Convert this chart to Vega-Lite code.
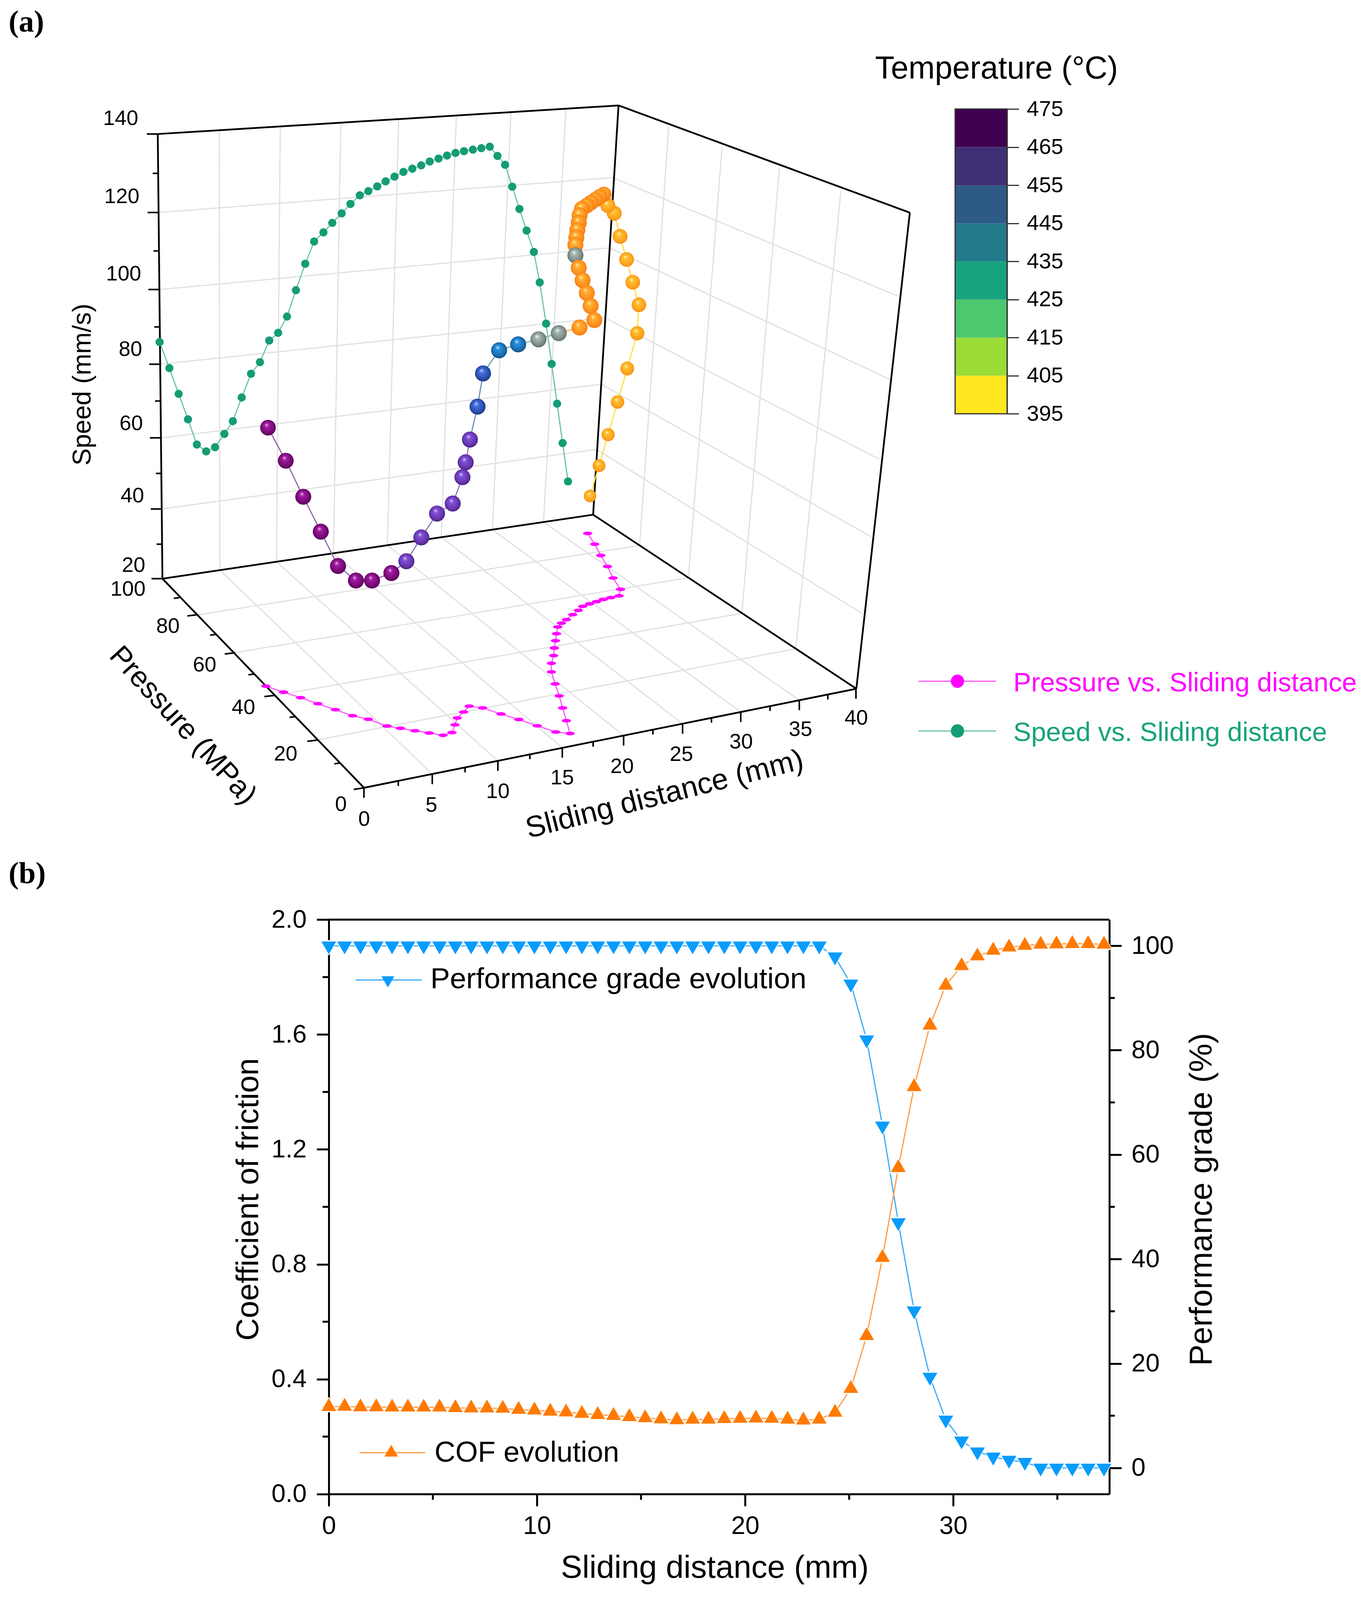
{
  "$schema": "https://vega.github.io/schema/vega-lite/v6.json",
  "width": 3511,
  "height": 4464,
  "autosize": {"type": "none"},
  "padding": 0,
  "background": "white",
  "config": {
    "font": "Liberation Sans",
    "view": {"stroke": null},
    "axis": {"grid": false, "domainColor": "black", "tickColor": "black", "labelColor": "black", "titleColor": "black", "titleFontWeight": "normal", "labelOverlap": false, "labelFlush": false, "zindex": 1}
  },
  "datasets": {
    "grid": [
      {"u":406.6,"v":594.5,"u2":1569,"v2":497},{"u":408,"v":810,"u2":1560.7,"v2":693.6},{"u":410,"v":1019,"u2":1548,"v2":888.5},{"u":412,"v":1225,"u2":1540,"v2":1075},{"u":414,"v":1424,"u2":1527.5,"v2":1257.5},
      {"u":561.6,"v":364,"u2":563,"v2":1595},{"u":717.7,"v":354,"u2":708,"v2":1572},{"u":872.7,"v":343,"u2":854,"v2":1548},{"u":1021,"v":333,"u2":992,"v2":1525.5},{"u":1168.7,"v":323,"u2":1130,"v2":1503},{"u":1308.5,"v":314,"u2":1261,"v2":1482},{"u":1449.5,"v":304,"u2":1392,"v2":1461},
      {"u":1569,"v":497,"u2":2301,"v2":829},{"u":1560.7,"v":693.6,"u2":2278,"v2":1061},{"u":1548,"v":888.5,"u2":2252,"v2":1285},{"u":1540,"v":1075,"u2":2231,"v2":1501.6},{"u":1527.5,"v":1257.5,"u2":2209,"v2":1717},
      {"u":1712.5,"v":353.6,"u2":1638,"v2":1526},{"u":1849,"v":411.7,"u2":1763,"v2":1616},{"u":1996,"v":469.7,"u2":1900,"v2":1716},{"u":2153.6,"v":532,"u2":2038,"v2":1815},
      {"u":563,"v":1595,"u2":1107,"v2":2166},{"u":708,"v":1572,"u2":1275,"v2":2129},{"u":854,"v":1548,"u2":1440,"v2":2092},{"u":992,"v":1525.5,"u2":1597,"v2":2058},{"u":1130,"v":1503,"u2":1748,"v2":2025},{"u":1261,"v":1482,"u2":1897,"v2":1992},{"u":1392,"v":1461,"u2":2047,"v2":1959},
      {"u":507,"v":1720,"u2":1638,"v2":1526},{"u":602,"v":1826,"u2":1763,"v2":1616},{"u":703,"v":1946,"u2":1900,"v2":1716},{"u":813,"v":2070,"u2":2038,"v2":1815}
    ],
    "box": [
      {"u":404,"v":375,"u2":416,"v2":1619},{"u":404,"v":375,"u2":1584,"v2":295},{"u":1584,"v":295,"u2":2330,"v2":595},{"u":2330,"v":595,"u2":2193,"v2":1927},{"u":1584,"v":295,"u2":1519,"v2":1440},
      {"u":416,"v":1619,"u2":1519,"v2":1440},{"u":1519,"v":1440,"u2":2193,"v2":1927},{"u":416,"v":1619,"u2":932,"v2":2204},{"u":932,"v":2204,"u2":2193,"v2":1927}
    ],
    "ticks": [
      {"u":404,"v":375,"u2":376,"v2":375},{"u":406,"v":594.5,"u2":378,"v2":594.5},{"u":408,"v":810,"u2":380,"v2":810},{"u":410,"v":1019,"u2":382,"v2":1019},{"u":412,"v":1225,"u2":384,"v2":1225},{"u":414,"v":1424,"u2":386,"v2":1424},{"u":416,"v":1619,"u2":388,"v2":1619},
      {"u":405,"v":485,"u2":391,"v2":485},{"u":407,"v":702,"u2":393,"v2":702},{"u":409,"v":914.6,"u2":395,"v2":914.6},{"u":411,"v":1122,"u2":397,"v2":1122},{"u":413,"v":1324.6,"u2":399,"v2":1324.6},{"u":415,"v":1522.5,"u2":401,"v2":1522.5},
      {"u":506.7,"v":1719.6,"u2":479.9,"v2":1723.2},{"u":602.4,"v":1826.3,"u2":575.6,"v2":1829.8},{"u":703,"v":1945.6,"u2":677,"v2":1949},{"u":813,"v":2070.5,"u2":787,"v2":2074},{"u":932.5,"v":2204,"u2":905.8,"v2":2208.8},
      {"u":459,"v":1672,"u2":445,"v2":1674},{"u":552,"v":1775,"u2":538,"v2":1777},{"u":650,"v":1886,"u2":636,"v2":1888},{"u":755.5,"v":2005,"u2":741.5,"v2":2007},{"u":870,"v":2135,"u2":856,"v2":2137},
      {"u":932,"v":2204,"u2":932,"v2":2232},{"u":1107,"v":2166,"u2":1107,"v2":2194},{"u":1275,"v":2129,"u2":1275,"v2":2157},{"u":1440,"v":2092,"u2":1440,"v2":2120},{"u":1597,"v":2058,"u2":1597,"v2":2086},{"u":1748,"v":2025,"u2":1748,"v2":2053},{"u":1897,"v":1992,"u2":1897,"v2":2020},{"u":2047,"v":1959,"u2":2047,"v2":1987},{"u":2192,"v":1927,"u2":2192,"v2":1955},
      {"u":1020,"v":2185,"u2":1020,"v2":2199},{"u":1191,"v":2147,"u2":1191,"v2":2161},{"u":1357,"v":2110,"u2":1357,"v2":2124},{"u":1519,"v":2075,"u2":1519,"v2":2089},{"u":1672,"v":2041,"u2":1672,"v2":2055},{"u":1822,"v":2008,"u2":1822,"v2":2022},{"u":1972,"v":1975,"u2":1972,"v2":1989},{"u":2120,"v":1943,"u2":2120,"v2":1957}
    ],
    "ticklabels": [
      {"label":"140","u":309,"v":332},{"label":"120","u":312,"v":551},{"label":"100","u":316.6,"v":767},{"label":"80","u":334,"v":978.5},{"label":"60","u":336,"v":1186},{"label":"40","u":339,"v":1388},{"label":"20","u":342,"v":1583},
      {"label":"100","u":327.8,"v":1649.5},{"label":"80","u":430,"v":1752.6},{"label":"60","u":524,"v":1861},{"label":"40","u":623.4,"v":1980.7},{"label":"20","u":731.6,"v":2110.5},{"label":"0","u":873,"v":2251},
      {"label":"0","u":932.5,"v":2293},{"label":"5","u":1104.8,"v":2253},{"label":"10","u":1275,"v":2215.8},{"label":"15","u":1439.7,"v":2177},{"label":"20","u":1593,"v":2145.6},{"label":"25","u":1745,"v":2111},{"label":"30","u":1898,"v":2076},{"label":"35","u":2050,"v":2041},{"label":"40","u":2192.7,"v":2010}
    ],
    "speed": [
      {"u":408.7,"v":956.9},{"u":433.7,"v":1029.9},{"u":457.5,"v":1102},{"u":481.4,"v":1173.3},{"u":504.1,"v":1243.8},{"u":528,"v":1262.9},{"u":550.7,"v":1251.2},{"u":574.6,"v":1213.9},{"u":596.3,"v":1178.3},{"u":619,"v":1111.9},
      {"u":642.9,"v":1045.6},{"u":665.7,"v":1013.3},{"u":689.5,"v":952.7},{"u":712.3,"v":931.2},{"u":735,"v":885.6},{"u":757.8,"v":811.8},{"u":781.7,"v":738},{"u":804.4,"v":675.8},{"u":828.3,"v":650.1},{"u":851,"v":623.6},
      {"u":874.9,"v":597},{"u":897.6,"v":570.5},{"u":921.5,"v":546.4},{"u":943.2,"v":534.8},{"u":966,"v":521.6},{"u":987.6,"v":507.5},{"u":1010.4,"v":494.2},{"u":1033.2,"v":480.9},{"u":1056,"v":471.8},{"u":1078.7,"v":462.7},
      {"u":1100.4,"v":451.9},{"u":1123.2,"v":443.6},{"u":1144.8,"v":435.3},{"u":1166.5,"v":427.9},{"u":1188.2,"v":422.9},{"u":1211,"v":418.7},{"u":1232.7,"v":414.6},{"u":1254.3,"v":410.4},{"u":1273.9,"v":436.2},{"u":1293.4,"v":461},
      {"u":1311.8,"v":522.4},{"u":1330.2,"v":584.6},{"u":1348.6,"v":645.1},{"u":1367.1,"v":704.8},{"u":1382.2,"v":790.2},{"u":1398.5,"v":905.5},{"u":1412.7,"v":1018.2},{"u":1426.7,"v":1129.4},{"u":1440.8,"v":1239.6},{"u":1454.6,"v":1347}
    ],
    "pressure": [
      {"i":1,"u":680.9,"v":1919.7},{"i":2,"u":725.9,"v":1936.5},{"i":3,"u":769.9,"v":1952},{"i":4,"u":813.9,"v":1968.8},{"i":5,"u":858.9,"v":1985.6},{"i":6,"u":902.9,"v":2002.5},{"i":7,"u":943.1,"v":2012.3},{"i":8,"u":991,"v":2031.3},{"i":9,"u":1025.4,"v":2037.6},{"i":10,"u":1062.7,"v":2044.6},
      {"i":11,"u":1099.1,"v":2050.9},{"i":12,"u":1134.5,"v":2057.2},{"i":13,"u":1157.5,"v":2049.5},{"i":14,"u":1165.1,"v":2027.8},{"i":15,"u":1170.9,"v":2008.8},{"i":16,"u":1187.2,"v":1992},{"i":17,"u":1201.5,"v":1975.8},{"i":18,"u":1236,"v":1980.7},{"i":19,"u":1282.9,"v":1997.6},{"i":20,"u":1328.8,"v":2013},
      {"i":21,"u":1375.7,"v":2030.6},{"i":22,"u":1423.5,"v":2048.1},{"i":23,"u":1459.9,"v":2052.3},{"i":24,"u":1450.3,"v":2016.5},{"i":25,"u":1440.8,"v":1980.7},{"i":26,"u":1432.1,"v":1947},{"i":27,"u":1421.6,"v":1913.4},{"i":28,"u":1412,"v":1879.7},{"i":29,"u":1412,"v":1855.8},{"i":30,"u":1417.8,"v":1834.1},
      {"i":31,"u":1419.7,"v":1813},{"i":32,"u":1422.6,"v":1792.7},{"i":33,"u":1425.4,"v":1773},{"i":34,"u":1428.3,"v":1754.1},{"i":35,"u":1437.9,"v":1743.5},{"i":36,"u":1450.3,"v":1733.7},{"i":37,"u":1466.6,"v":1719.7},{"i":38,"u":1481,"v":1707.7},{"i":39,"u":1492.4,"v":1696.5},{"i":40,"u":1509.7,"v":1689.5},
      {"i":41,"u":1527.8,"v":1683.2},{"i":42,"u":1545.1,"v":1676.9},{"i":43,"u":1564.2,"v":1672},{"i":44,"u":1585.3,"v":1667},{"i":45,"u":1589.1,"v":1648.8},{"i":46,"u":1570,"v":1617.2},{"i":47,"u":1555.6,"v":1584.9},{"i":48,"u":1538.4,"v":1554},{"i":49,"u":1523,"v":1522.5},{"i":50,"u":1504.9,"v":1492.3}
    ],
    "spheres": [
      {"u":1511,"v":1387.6,"temperature":400,"pressure":90},{"u":1534.2,"v":1303,"temperature":400,"pressure":86},{"u":1557.4,"v":1216,"temperature":400,"pressure":82},{"u":1581.4,"v":1124.8,"temperature":400,"pressure":78},{"u":1606.3,"v":1031,"temperature":400,"pressure":72},{"u":1632,"v":932.4,"temperature":400,"pressure":67},
      {"u":1636.2,"v":852.8,"temperature":400,"pressure":61},{"u":1620.4,"v":789.8,"temperature":400,"pressure":60},{"u":1604.6,"v":726,"temperature":400,"pressure":59},{"u":1588,"v":661.3,"temperature":400,"pressure":58},{"u":1573,"v":596.6,"temperature":400,"pressure":57},{"u":1556.6,"v":575,"temperature":400,"pressure":56},
      {"u":1546.6,"v":543.5,"temperature":410,"pressure":54},{"u":1535.8,"v":550.2,"temperature":410,"pressure":52},{"u":1525,"v":558.5,"temperature":410,"pressure":50},{"u":1513.4,"v":566.7,"temperature":410,"pressure":48},{"u":1502.7,"v":575,"temperature":410,"pressure":46},{"u":1490.2,"v":584.2,"temperature":410,"pressure":43},
      {"u":1484.4,"v":602.4,"temperature":410,"pressure":41},{"u":1482,"v":623,"temperature":410,"pressure":38},{"u":1478.6,"v":643.9,"temperature":410,"pressure":35},{"u":1476,"v":664.6,"temperature":410,"pressure":32},{"u":1473.6,"v":685.3,"temperature":410,"pressure":29},{"u":1473.6,"v":714.3,"temperature":430,"pressure":25},
      {"u":1482,"v":749.2,"temperature":410,"pressure":21},{"u":1491.9,"v":784,"temperature":410,"pressure":18},{"u":1502.7,"v":819.7,"temperature":410,"pressure":15},{"u":1512.6,"v":856,"temperature":410,"pressure":12},{"u":1522,"v":895.5,"temperature":410,"pressure":9},{"u":1484,"v":916.3,"temperature":410,"pressure":10},
      {"u":1431,"v":932,"temperature":430,"pressure":13},{"u":1379,"v":949.4,"temperature":430,"pressure":16},{"u":1327,"v":963.5,"temperature":440,"pressure":19},{"u":1278.2,"v":980,"temperature":440,"pressure":21},{"u":1237,"v":1044.8,"temperature":450,"pressure":24},{"u":1222.9,"v":1137.6,"temperature":450,"pressure":26},
      {"u":1203.4,"v":1229.7,"temperature":460,"pressure":28},{"u":1192.6,"v":1293.5,"temperature":460,"pressure":26},{"u":1184.3,"v":1335,"temperature":460,"pressure":22},{"u":1159.4,"v":1408.8,"temperature":460,"pressure":20},{"u":1119.2,"v":1436.8,"temperature":460,"pressure":23},{"u":1079,"v":1503.5,"temperature":460,"pressure":25},
      {"u":1040.7,"v":1570.2,"temperature":460,"pressure":27},{"u":1002.4,"v":1603.2,"temperature":470,"pressure":29},{"u":952.7,"v":1624.2,"temperature":470,"pressure":31},{"u":911.5,"v":1624.2,"temperature":470,"pressure":33},{"u":865.6,"v":1583.5,"temperature":470,"pressure":36},{"u":821.5,"v":1487.4,"temperature":470,"pressure":38},
      {"u":776.6,"v":1389.8,"temperature":470,"pressure":41},{"u":731.8,"v":1289,"temperature":470,"pressure":43},{"u":686.3,"v":1196.5,"temperature":470,"pressure":45}
    ],
    "evolution": [
      {"d":0,"cof":0.304,"grade":100},{"d":0.76,"cof":0.305,"grade":100},{"d":1.52,"cof":0.303,"grade":100},{"d":2.28,"cof":0.303,"grade":100},{"d":3.04,"cof":0.302,"grade":100},{"d":3.8,"cof":0.302,"grade":100},{"d":4.56,"cof":0.302,"grade":100},{"d":5.32,"cof":0.302,"grade":100},{"d":6.08,"cof":0.3,"grade":100},{"d":6.84,"cof":0.299,"grade":100},
      {"d":7.6,"cof":0.299,"grade":100},{"d":8.36,"cof":0.298,"grade":100},{"d":9.12,"cof":0.294,"grade":100},{"d":9.88,"cof":0.292,"grade":100},{"d":10.64,"cof":0.288,"grade":100},{"d":11.4,"cof":0.285,"grade":100},{"d":12.16,"cof":0.28,"grade":100},{"d":12.92,"cof":0.276,"grade":100},{"d":13.68,"cof":0.273,"grade":100},{"d":14.44,"cof":0.269,"grade":100},
      {"d":15.2,"cof":0.265,"grade":100},{"d":15.96,"cof":0.261,"grade":100},{"d":16.72,"cof":0.258,"grade":100},{"d":17.48,"cof":0.26,"grade":100},{"d":18.24,"cof":0.26,"grade":100},{"d":19,"cof":0.262,"grade":100},{"d":19.76,"cof":0.263,"grade":100},{"d":20.52,"cof":0.264,"grade":100},{"d":21.28,"cof":0.263,"grade":100},{"d":22.04,"cof":0.26,"grade":100},
      {"d":22.8,"cof":0.257,"grade":100},{"d":23.56,"cof":0.26,"grade":100},{"d":24.32,"cof":0.284,"grade":97.9},{"d":25.08,"cof":0.367,"grade":92.7},{"d":25.84,"cof":0.551,"grade":82},{"d":26.6,"cof":0.823,"grade":65.5},{"d":27.36,"cof":1.136,"grade":47},{"d":28.12,"cof":1.418,"grade":30.1},{"d":28.88,"cof":1.632,"grade":17.4},{"d":29.64,"cof":1.771,"grade":9.2},
      {"d":30.4,"cof":1.839,"grade":5.2},{"d":31.16,"cof":1.873,"grade":3.1},{"d":31.92,"cof":1.893,"grade":2.1},{"d":32.68,"cof":1.904,"grade":1.5},{"d":33.44,"cof":1.91,"grade":1.1},{"d":34.2,"cof":1.914,"grade":0},{"d":34.96,"cof":1.915,"grade":0},{"d":35.72,"cof":1.916,"grade":0},{"d":36.48,"cof":1.916,"grade":0},{"d":37.24,"cof":1.914,"grade":0}
    ]
  },
  "layer": [
    {
      "encoding": {
        "x": {"field": "u", "type": "quantitative", "scale": {"domain": [0, 3511], "range": [0, 3511]}, "axis": null},
        "y": {"field": "v", "type": "quantitative", "scale": {"domain": [0, 4464], "range": [0, 4084.6]}, "axis": null}
      },
      "layer": [
        {"data": {"name": "grid"}, "mark": {"type": "rule", "color": "#e0e0e0", "strokeWidth": 3}, "encoding": {"x2": {"field": "u2"}, "y2": {"field": "v2"}}},
        {"data": {"name": "box"}, "mark": {"type": "rule", "color": "black", "strokeWidth": 4.5}, "encoding": {"x2": {"field": "u2"}, "y2": {"field": "v2"}}},
        {"data": {"name": "ticks"}, "mark": {"type": "rule", "color": "black", "strokeWidth": 4}, "encoding": {"x2": {"field": "u2"}, "y2": {"field": "v2"}}},
        {"data": {"name": "ticklabels"}, "mark": {"type": "text", "fontSize": 54, "align": "center", "baseline": "middle", "color": "black"}, "encoding": {"text": {"field": "label"}}},
        {"data": {"name": "pressure"}, "mark": {"type": "line", "color": "#ff55ff", "strokeWidth": 3}, "encoding": {"order": {"field": "i"}}},
        {"data": {"name": "pressure"}, "mark": {"type": "point", "filled": true, "opacity": 1, "color": "#ff00ff", "size": 576, "shape": "M-1,0A1,0.38,0,1,1,1,0A1,0.38,0,1,1,-1,0Z"}},
        {"data": {"name": "speed"}, "mark": {"type": "line", "color": "#6cc4a6", "strokeWidth": 3}},
        {"data": {"name": "speed"}, "mark": {"type": "point", "filled": true, "opacity": 1, "color": "#149c75", "size": 441}},
        {
          "data": {"name": "spheres"},
          "transform": [
            {"window": [{"op": "lead", "field": "u", "as": "u2"}, {"op": "lead", "field": "v", "as": "v2"}]},
            {"filter": "datum.u2 != null"}
          ],
          "mark": {"type": "rule", "strokeWidth": 3},
          "encoding": {
            "x2": {"field": "u2"},
            "y2": {"field": "v2"},
            "color": {
              "field": "temperature",
              "type": "quantitative",
              "scale": {"type": "threshold", "domain": [405, 425, 435, 445, 455, 465], "range": ["#ffdf3a", "#ffb040", "#84bda8", "#60a0b8", "#6f8fc0", "#8878b8", "#8f6aa8"]},
              "legend": null
            }
          }
        },
        {
          "data": {"name": "spheres"},
          "mark": {"type": "point", "filled": true, "opacity": 1},
          "encoding": {
            "size": {"field": "pressure", "type": "quantitative", "scale": {"domain": [40, 90], "range": [1681, 1024], "clamp": true}, "legend": null},
            "color": {
              "condition": [
                {"test": "datum.temperature >= 465", "value": {"gradient": "radial", "x1": 0.4, "y1": 0.3, "r1": 0, "x2": 0.5, "y2": 0.5, "r2": 0.55, "stops": [{"offset": 0, "color": "#e6b8ec"}, {"offset": 0.25, "color": "#a01ca0"}, {"offset": 0.7, "color": "#7a0a78"}, {"offset": 1, "color": "#4a0550"}]}},
                {"test": "datum.temperature >= 455", "value": {"gradient": "radial", "x1": 0.4, "y1": 0.3, "r1": 0, "x2": 0.5, "y2": 0.5, "r2": 0.55, "stops": [{"offset": 0, "color": "#dccdf8"}, {"offset": 0.25, "color": "#8050d8"}, {"offset": 0.7, "color": "#6a35b0"}, {"offset": 1, "color": "#40207a"}]}},
                {"test": "datum.temperature >= 445", "value": {"gradient": "radial", "x1": 0.4, "y1": 0.3, "r1": 0, "x2": 0.5, "y2": 0.5, "r2": 0.55, "stops": [{"offset": 0, "color": "#c8d8ff"}, {"offset": 0.25, "color": "#4a70e0"}, {"offset": 0.7, "color": "#2a50b0"}, {"offset": 1, "color": "#183070"}]}},
                {"test": "datum.temperature >= 435", "value": {"gradient": "radial", "x1": 0.4, "y1": 0.3, "r1": 0, "x2": 0.5, "y2": 0.5, "r2": 0.55, "stops": [{"offset": 0, "color": "#c0e8ff"}, {"offset": 0.25, "color": "#2a90e0"}, {"offset": 0.7, "color": "#1a70b0"}, {"offset": 1, "color": "#104878"}]}},
                {"test": "datum.temperature >= 425", "value": {"gradient": "radial", "x1": 0.4, "y1": 0.3, "r1": 0, "x2": 0.5, "y2": 0.5, "r2": 0.55, "stops": [{"offset": 0, "color": "#f0f8f4"}, {"offset": 0.25, "color": "#a8b8b4"}, {"offset": 0.7, "color": "#808f8c"}, {"offset": 1, "color": "#586864"}]}},
                {"test": "datum.temperature >= 405", "value": {"gradient": "radial", "x1": 0.4, "y1": 0.3, "r1": 0, "x2": 0.5, "y2": 0.5, "r2": 0.55, "stops": [{"offset": 0, "color": "#fff0b0"}, {"offset": 0.25, "color": "#ffb030"}, {"offset": 0.7, "color": "#ff9020"}, {"offset": 1, "color": "#f07810"}]}}
              ],
              "value": {"gradient": "radial", "x1": 0.4, "y1": 0.3, "r1": 0, "x2": 0.5, "y2": 0.5, "r2": 0.55, "stops": [{"offset": 0, "color": "#fff8c0"}, {"offset": 0.25, "color": "#ffc030"}, {"offset": 0.7, "color": "#ffa520"}, {"offset": 1, "color": "#f08a10"}]}
            }
          }
        },
        {"data": {"values": [{"u": 212, "v": 1076, "label": "Speed (mm/s)"}]}, "mark": {"type": "text", "fontSize": 66, "angle": 270, "align": "center", "baseline": "middle", "color": "black"}, "encoding": {"text": {"field": "label"}}},
        {"data": {"values": [{"u": 468, "v": 2030, "label": "Pressure (MPa)"}]}, "mark": {"type": "text", "fontSize": 74, "angle": 47.6, "align": "center", "baseline": "middle", "color": "black"}, "encoding": {"text": {"field": "label"}}},
        {"data": {"values": [{"u": 1702, "v": 2223, "label": "Sliding distance (mm)"}]}, "mark": {"type": "text", "fontSize": 76, "angle": 345.8, "align": "center", "baseline": "middle", "color": "black"}, "encoding": {"text": {"field": "label"}}},
        {"data": {"values": [{"u": 2241, "v": 220, "label": "Temperature  (°C)"}]}, "mark": {"type": "text", "fontSize": 81, "align": "left", "baseline": "alphabetic", "color": "black"}, "encoding": {"text": {"field": "label"}}},
        {"data": {"values": [{"u": 22, "v": 88, "label": "(a)"}, {"u": 22, "v": 2471, "label": "(b)"}]}, "mark": {"type": "text", "font": "Liberation Serif", "fontWeight": "bold", "fontSize": 78, "align": "left", "baseline": "alphabetic", "color": "black"}, "encoding": {"text": {"field": "label"}}},
        {"data": {"values": [{"u": 2352, "v": 1906, "u2": 2551}]}, "mark": {"type": "rule", "color": "#ff55ff", "strokeWidth": 3}, "encoding": {"x2": {"field": "u2"}}},
        {"data": {"values": [{"u": 2452, "v": 1906}]}, "mark": {"type": "point", "filled": true, "opacity": 1, "color": "#ff00ff", "size": 1156}},
        {"data": {"values": [{"u": 2595, "v": 1934, "label": "Pressure vs. Sliding distance"}]}, "mark": {"type": "text", "fontSize": 68.5, "align": "left", "baseline": "alphabetic", "color": "#ff00ff"}, "encoding": {"text": {"field": "label"}}},
        {"data": {"values": [{"u": 2352, "v": 2045, "u2": 2551}]}, "mark": {"type": "rule", "color": "#6cc4a6", "strokeWidth": 3}, "encoding": {"x2": {"field": "u2"}}},
        {"data": {"values": [{"u": 2452, "v": 2045}]}, "mark": {"type": "point", "filled": true, "opacity": 1, "color": "#149c75", "size": 1156}},
        {"data": {"values": [{"u": 2595, "v": 2073, "label": "Speed vs. Sliding distance"}]}, "mark": {"type": "text", "fontSize": 68.5, "align": "left", "baseline": "alphabetic", "color": "#17a37a"}, "encoding": {"text": {"field": "label"}}}
      ]
    },
    {
      "encoding": {
        "x": {"datum": 0, "type": "quantitative", "scale": {"domain": [0, 1], "range": [2446, 2579]}, "axis": null},
        "x2": {"datum": 1},
        "y": {
          "field": "lo", "type": "quantitative",
          "scale": {"domain": [395, 475], "range": [1059.2, 279.1]},
          "axis": {"orient": "right", "offset": -932, "values": [395,405,415,425,435,445,455,465,475], "title": null, "tickSize": 30, "tickWidth": 3, "tickColor": "#333333", "domainWidth": 3, "domainColor": "#333333", "labelFontSize": 56, "labelPadding": 20}
        },
        "y2": {"field": "hi"}
      },
      "layer": [
        {
          "data": {"values": [{"lo":395,"hi":405},{"lo":405,"hi":415},{"lo":415,"hi":425},{"lo":425,"hi":435},{"lo":435,"hi":445},{"lo":445,"hi":455},{"lo":455,"hi":465},{"lo":465,"hi":475}]},
          "mark": {"type": "rect"},
          "encoding": {
            "color": {"field": "lo", "type": "ordinal", "scale": {"domain": [395,405,415,425,435,445,455,465], "range": ["#ffe61e","#9bdc37","#4ec86e","#18a37f","#237a8a","#2e5a88","#3f2f74","#3f0050"]}, "legend": null}
          }
        },
        {
          "data": {"values": [{"lo": 395, "hi": 475}]},
          "mark": {"type": "rect", "filled": false, "stroke": "#333333", "strokeWidth": 3, "opacity": 1}
        }
      ]
    },
    {
      "data": {"name": "evolution"},
      "encoding": {
        "x": {"field": "d", "type": "quantitative", "scale": {"domain": [0, 37.5], "range": [842, 2841]}, "axis": null},
        "y": {
          "field": "grade", "type": "quantitative",
          "scale": {"domain": [-5, 105], "range": [3824.7, 2354.3]},
          "axis": {"orient": "right", "offset": -670, "values": [0, 20, 40, 60, 80, 100], "title": "Performance grade (%)", "titleFontSize": 82, "titleAngle": 270, "titleX": 261, "titleY": 3070, "titleAlign": "center", "titleBaseline": "alphabetic", "tickSize": 31, "tickWidth": 5, "domainWidth": 5, "labelFontSize": 65, "labelPadding": 25}
        }
      },
      "layer": [
        {"mark": {"type": "line", "color": "#36aaf5", "strokeWidth": 3}},
        {"mark": {"type": "point", "filled": true, "opacity": 1, "shape": "triangle-down", "color": "white", "size": 2100, "yOffset": 5.5}},
        {"mark": {"type": "point", "filled": true, "opacity": 1, "shape": "triangle-down", "color": "#0a9bfb", "size": 1444, "yOffset": 5.5}}
      ]
    },
    {
      "encoding": {
        "x": {
          "field": "d", "type": "quantitative",
          "scale": {"domain": [0, 37.5], "range": [842, 2841]},
          "axis": {"orient": "bottom", "offset": -639.3, "values": [0, 10, 20, 30], "title": "Sliding distance (mm)", "titleFontSize": 82, "titleX": 1830, "titleY": 214, "titleAlign": "center", "titleBaseline": "alphabetic", "tickSize": 31, "tickWidth": 5, "domainWidth": 5, "labelFontSize": 65, "labelPadding": 20}
        },
        "y": {
          "field": "cof", "type": "quantitative",
          "scale": {"domain": [0, 2], "range": [3824.7, 2354.3]},
          "axis": {"orient": "left", "offset": -842, "values": [0, 0.4, 0.8, 1.2, 1.6, 2], "format": ".1f", "title": "Coefficient of friction", "titleFontSize": 80, "titleAngle": 270, "titleX": -182, "titleY": 3070, "titleAlign": "center", "titleBaseline": "alphabetic", "tickSize": 31, "tickWidth": 5, "domainWidth": 5, "labelFontSize": 65, "labelPadding": 26}
        }
      },
      "layer": [
        {"data": {"name": "evolution"}, "mark": {"type": "line", "color": "#ff9a40", "strokeWidth": 3}},
        {"data": {"name": "evolution"}, "mark": {"type": "point", "filled": true, "opacity": 1, "shape": "triangle-up", "color": "white", "size": 2100, "yOffset": -5.5}},
        {"data": {"name": "evolution"}, "mark": {"type": "point", "filled": true, "opacity": 1, "shape": "triangle-up", "color": "#ff7a00", "size": 1444, "yOffset": -5.5}},
        {
          "data": {"values": [{"d": -0.7, "d2": 0}, {"d": 37.5, "d2": 38.1}]},
          "mark": {"type": "rect", "color": "white"},
          "encoding": {"x2": {"field": "d2"}, "y": {"datum": 0, "type": "quantitative"}, "y2": {"datum": 2}}
        },
        {"data": {"values": [{"d": 0, "d2": 37.5, "cof": 2}]}, "mark": {"type": "rule", "color": "black", "strokeWidth": 5}, "encoding": {"x2": {"field": "d2"}}},
        {"data": {"values": [{"d": 0, "d2": -0.3, "cof": 0.2}, {"d": 0, "d2": -0.3, "cof": 0.6}, {"d": 0, "d2": -0.3, "cof": 1}, {"d": 0, "d2": -0.3, "cof": 1.4}, {"d": 0, "d2": -0.3, "cof": 1.8}]}, "mark": {"type": "rule", "color": "black", "strokeWidth": 5}, "encoding": {"x2": {"field": "d2"}}},
        {"data": {"values": [{"d": 5, "cof": 0, "cof2": -0.02}, {"d": 15, "cof": 0, "cof2": -0.02}, {"d": 25, "cof": 0, "cof2": -0.02}, {"d": 35, "cof": 0, "cof2": -0.02}]}, "mark": {"type": "rule", "color": "black", "strokeWidth": 5}, "encoding": {"y2": {"field": "cof2"}}},
        {"data": {"values": [{"d": 1.28, "d2": 4.47, "cof": 1.79}]}, "mark": {"type": "rule", "color": "#36aaf5", "strokeWidth": 3}, "encoding": {"x2": {"field": "d2"}}},
        {"data": {"values": [{"d": 2.84, "cof": 1.79}]}, "mark": {"type": "point", "filled": true, "opacity": 1, "shape": "triangle-down", "color": "#0a9bfb", "size": 1100, "yOffset": 5}},
        {"data": {"values": [{"d": 4.88, "cof": 1.761, "label": "Performance grade evolution"}]}, "mark": {"type": "text", "fontSize": 75, "align": "left", "baseline": "alphabetic", "color": "black"}, "encoding": {"text": {"field": "label"}}},
        {"data": {"values": [{"d": 1.48, "d2": 4.63, "cof": 0.144}]}, "mark": {"type": "rule", "color": "#ff9a40", "strokeWidth": 3}, "encoding": {"x2": {"field": "d2"}}},
        {"data": {"values": [{"d": 3, "cof": 0.144}]}, "mark": {"type": "point", "filled": true, "opacity": 1, "shape": "triangle-up", "color": "#ff7a00", "size": 1200, "yOffset": -5}},
        {"data": {"values": [{"d": 5.08, "cof": 0.112, "label": "COF evolution"}]}, "mark": {"type": "text", "fontSize": 74, "align": "left", "baseline": "alphabetic", "color": "black"}, "encoding": {"text": {"field": "label"}}}
      ]
    },
    {
      "data": {"values": [{"d": 37.5, "d2": 37.76, "grade": 10}, {"d": 37.5, "d2": 37.76, "grade": 30}, {"d": 37.5, "d2": 37.76, "grade": 50}, {"d": 37.5, "d2": 37.76, "grade": 70}, {"d": 37.5, "d2": 37.76, "grade": 90}]},
      "mark": {"type": "rule", "color": "black", "strokeWidth": 5},
      "encoding": {
        "x": {"field": "d", "type": "quantitative", "scale": {"domain": [0, 37.5], "range": [842, 2841]}, "axis": null},
        "x2": {"field": "d2"},
        "y": {"field": "grade", "type": "quantitative", "scale": {"domain": [-5, 105], "range": [3824.7, 2354.3]}, "axis": null}
      }
    }
  ],
  "resolve": {
    "scale": {"x": "independent", "y": "independent", "color": "independent"},
    "axis": {"x": "independent", "y": "independent"}
  }
}
